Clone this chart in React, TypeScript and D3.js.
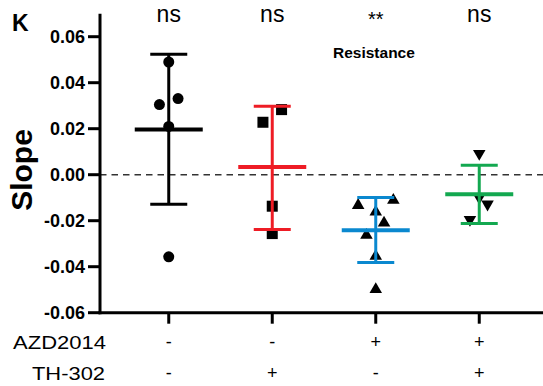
import React from 'react'
import * as d3 from 'd3'

// groups (left to right)
const groups = ['g1', 'g2', 'g3', 'g4']
const azdRow = ['-', '-', '+', '+']
const thRow = ['-', '+', '-', '+']
const sigLabels = ['ns', 'ns', '**', 'ns']
const colors = ['#000000', '#ee1c25', '#0a88cf', '#13a850']
const shapes = ['circle', 'square', 'triangle', 'triangleDown']

// individual slopes per group
const g1Values = [0.049, 0.0305, 0.0331, 0.021, -0.0357]
const g2Values = [0.0283, 0.0228, -0.0137, -0.0256]
const g3Values = [-0.0133, -0.0111, -0.0162, -0.021, -0.0263, -0.0354, -0.0499]
const g4Values = [0.0092, -0.0099, -0.0128, -0.0195]
// horizontal jitter of the points (in group-band fractions)
const g1Jitter = [0, -0.09, 0.09, 0, 0]
const g2Jitter = [0.09, -0.09, 0, 0]
const g3Jitter = [-0.17, 0.17, 0, 0.08, -0.09, 0, 0]
const g4Jitter = [0, 0, 0.08, -0.09]

// mean and SD
const means = [0.0197, 0.0034, -0.0241, -0.0085]
const upper = [0.0524, 0.0298, -0.0099, 0.0041]
const lower = [-0.0128, -0.0238, -0.0382, -0.0212]

const yTicks = [0.06, 0.04, 0.02, 0.0, -0.02, -0.04, -0.06]

const W = 543
const H = 386

export default function App() {
  const values = [g1Values, g2Values, g3Values, g4Values]
  const jitters = [g1Jitter, g2Jitter, g3Jitter, g4Jitter]

  const y = d3.scaleLinear().domain([-0.06, 0.07]).range([312.7, 13.7])
  const x = d3.scaleBand().domain(groups).range([117, 531]).padding(0)
  const cx = (g: string) => (x(g) as number) + x.bandwidth() / 2
  const bw = x.bandwidth()

  const font = 'Liberation Sans, Arial, sans-serif'
  const tri = d3.symbol().type(d3.symbolTriangle).size(68)() as string

  const marker = (shape: string, px: number, py: number, key: string) => {
    if (shape === 'circle') return <circle key={key} cx={px} cy={py} r={5.5} fill="#000" />
    if (shape === 'square') return <rect key={key} x={px - 5.5} y={py - 5.5} width={11} height={11} fill="#000" />
    const rot = shape === 'triangleDown' ? 180 : 0
    return <path key={key} d={tri} transform={`translate(${px},${py}) rotate(${rot})`} fill="#000" />
  }

  return (
    <svg width={W} height={H} style={{ position: 'fixed', left: 0, top: 0, background: '#fff' }} fontFamily={font}>
      <rect width={W} height={H} fill="#fff" />
      {/* panel letter */}
      <text x={12} y={30.5} fontSize={23} fontWeight="bold">K</text>

      {/* zero line */}
      <line x1={100} x2={W} y1={y(0)} y2={y(0)} stroke="#333" strokeWidth={1.5} strokeDasharray="6.5,5" />

      {/* y axis */}
      <line x1={100} x2={100} y1={y(0.07)} y2={y(-0.06) + 1.5} stroke="#000" strokeWidth={3} />
      {yTicks.map(t => (
        <g key={t}>
          <line x1={88} x2={100} y1={y(t)} y2={y(t)} stroke="#000" strokeWidth={3} />
          <text x={85} y={y(t)} dy="0.36em" textAnchor="end" fontSize={18} fontWeight="bold">{t.toFixed(2)}</text>
        </g>
      ))}
      <text transform={`translate(32,170) rotate(-90)`} textAnchor="middle" fontSize={30} fontWeight="bold">Slope</text>

      {/* x axis */}
      <line x1={98.5} x2={W} y1={y(-0.06)} y2={y(-0.06)} stroke="#000" strokeWidth={3} />
      {groups.map(g => (
        <line key={g} x1={cx(g)} x2={cx(g)} y1={y(-0.06)} y2={y(-0.06) + 11} stroke="#000" strokeWidth={3} />
      ))}

      {/* condition rows */}
      <text x={13} y={342} dy="0.36em" fontSize={19} textLength={93} lengthAdjust="spacingAndGlyphs">AZD2014</text>
      <text x={32} y={373} dy="0.36em" fontSize={19} textLength={73} lengthAdjust="spacingAndGlyphs">TH-302</text>
      {groups.map((g, i) => (
        <g key={g}>
          <text x={cx(g)} y={342} dy="0.36em" textAnchor="middle" fontSize={18}>{azdRow[i]}</text>
          <text x={cx(g)} y={373} dy="0.36em" textAnchor="middle" fontSize={18}>{thRow[i]}</text>
        </g>
      ))}

      {/* significance */}
      {groups.map((g, i) => (
        sigLabels[i] === '**'
          ? <text key={g} x={cx(g)} y={26} textAnchor="middle" fontSize={20}>{sigLabels[i]}</text>
          : <text key={g} x={cx(g)} y={22} textAnchor="middle" fontSize={23}>{sigLabels[i]}</text>
      ))}
      <text x={333} y={58} fontSize={15.5} fontWeight="bold">Resistance</text>

      {/* points */}
      {groups.map((g, i) => values[i].map((v, j) =>
        marker(shapes[i], cx(g) + jitters[i][j] * bw, y(v), `${g}-${j}`)
      ))}

      {/* mean and error bars */}
      {groups.map((g, i) => (
        <g key={g} stroke={colors[i]}>
          <line x1={cx(g)} x2={cx(g)} y1={y(upper[i])} y2={y(lower[i])} strokeWidth={3} />
          <line x1={cx(g) - 18.5} x2={cx(g) + 18.5} y1={y(upper[i])} y2={y(upper[i])} strokeWidth={3} />
          <line x1={cx(g) - 18.5} x2={cx(g) + 18.5} y1={y(lower[i])} y2={y(lower[i])} strokeWidth={3} />
          <line x1={cx(g) - 34} x2={cx(g) + 34} y1={y(means[i])} y2={y(means[i])} strokeWidth={4} />
        </g>
      ))}
    </svg>
  )
}
